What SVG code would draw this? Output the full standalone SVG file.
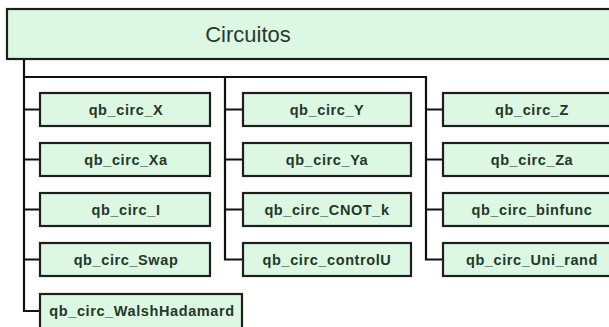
<svg xmlns="http://www.w3.org/2000/svg" width="609" height="327" viewBox="0 0 609 327">
<style>
.box{fill:#dcf7e2;stroke:#1e1e1e;stroke-width:2.2}
.lbl{font-family:"Liberation Sans",Arial,sans-serif;font-weight:bold;font-size:14.5px;letter-spacing:0.6px;fill:#24382a;text-anchor:middle}
.title{font-family:"Liberation Sans",Arial,sans-serif;font-size:22px;fill:#2a3a30;text-anchor:middle}
.con{fill:none;stroke:#111;stroke-width:2.2}
</style>
<rect width="609" height="327" fill="#ffffff"/>
<g id="connectors">
<path class="con" d="M24 59 V311 H40 M24 109.5 H40 M24 159.5 H40 M24 209.5 H40 M24 259.5 H40"/>
<path class="con" d="M24 77 H426 V259.5 H443 M426 109.5 H443 M426 159.5 H443 M426 209.5 H443"/>
<path class="con" d="M225 77 V259.5 H243 M225 109.5 H243 M225 159.5 H243 M225 209.5 H243"/>
</g>
<g id="circuitos"><rect class="box" x="7" y="9" width="612" height="50"/><text class="title" x="248" y="42">Circuitos</text></g>
<g id="qb_circ_X"><rect class="box" x="40" y="93" width="170" height="33"/><text class="lbl" x="126" y="114.5">qb_circ_X</text></g>
<g id="qb_circ_Xa"><rect class="box" x="40" y="143" width="170" height="33"/><text class="lbl" x="126" y="164.5">qb_circ_Xa</text></g>
<g id="qb_circ_I"><rect class="box" x="40" y="193" width="170" height="33"/><text class="lbl" x="126" y="214.5">qb_circ_I</text></g>
<g id="qb_circ_Swap"><rect class="box" x="40" y="243" width="170" height="33"/><text class="lbl" x="126" y="264.5">qb_circ_Swap</text></g>
<g id="qb_circ_WalshHadamard"><rect class="box" x="40" y="294" width="202" height="40"/><text class="lbl" x="142" y="316">qb_circ_WalshHadamard</text></g>
<g id="qb_circ_Y"><rect class="box" x="243" y="93" width="168" height="33"/><text class="lbl" x="327" y="114.5">qb_circ_Y</text></g>
<g id="qb_circ_Ya"><rect class="box" x="243" y="143" width="168" height="33"/><text class="lbl" x="327" y="164.5">qb_circ_Ya</text></g>
<g id="qb_circ_CNOT_k"><rect class="box" x="243" y="193" width="168" height="33"/><text class="lbl" x="327" y="214.5">qb_circ_CNOT_k</text></g>
<g id="qb_circ_controlU"><rect class="box" x="243" y="243" width="168" height="33"/><text class="lbl" x="327" y="264.5">qb_circ_controlU</text></g>
<g id="qb_circ_Z"><rect class="box" x="443" y="93" width="178" height="33"/><text class="lbl" x="532" y="114.5">qb_circ_Z</text></g>
<g id="qb_circ_Za"><rect class="box" x="443" y="143" width="178" height="33"/><text class="lbl" x="532" y="164.5">qb_circ_Za</text></g>
<g id="qb_circ_binfunc"><rect class="box" x="443" y="193" width="178" height="33"/><text class="lbl" x="532" y="214.5">qb_circ_binfunc</text></g>
<g id="qb_circ_Uni_rand"><rect class="box" x="443" y="243" width="178" height="33"/><text class="lbl" x="532" y="264.5">qb_circ_Uni_rand</text></g>
</svg>
